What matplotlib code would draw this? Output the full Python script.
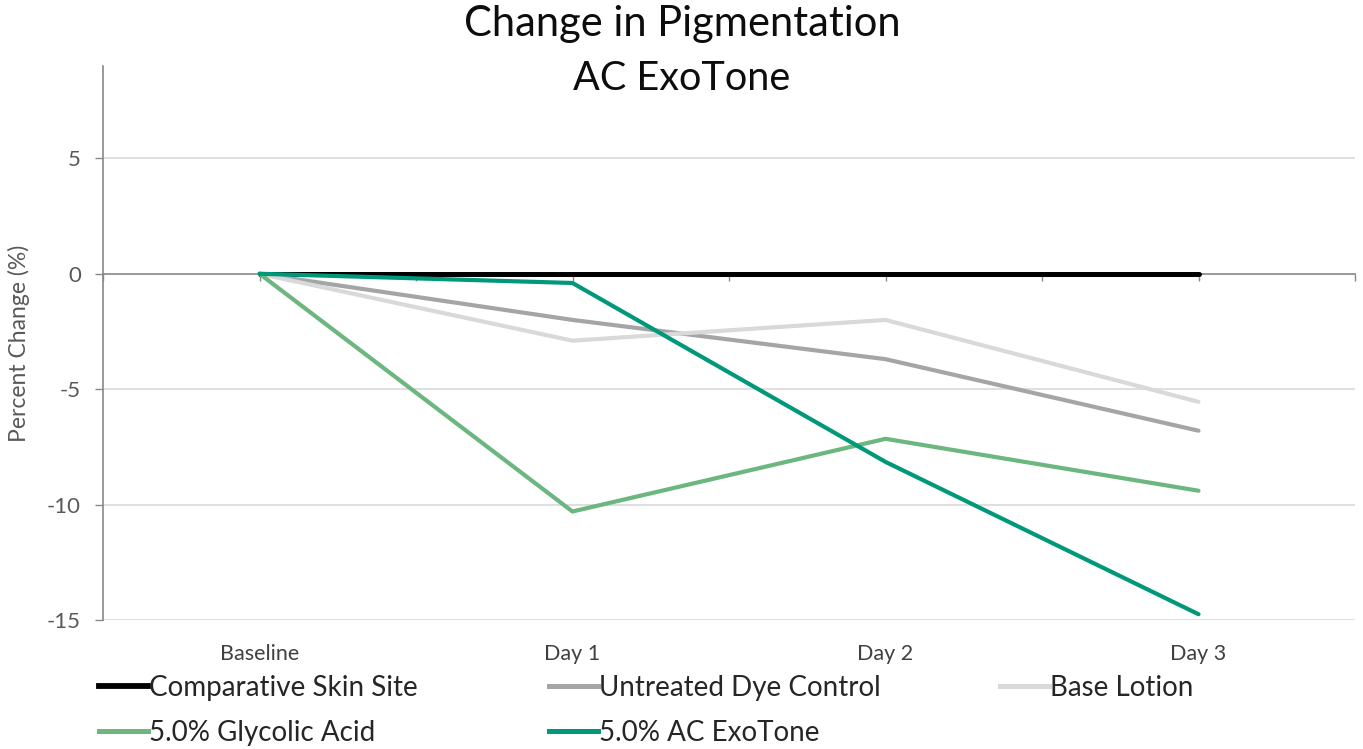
import matplotlib
matplotlib.use("Agg")
import matplotlib.pyplot as plt
from matplotlib.lines import Line2D
from matplotlib.ticker import MultipleLocator

categories = ["Baseline", "Day 1", "Day 2", "Day 3"]
series_names = ["Comparative Skin Site", "Untreated Dye Control", "Base Lotion",
                "5.0% Glycolic Acid", "5.0% AC ExoTone"]
comparative = [0, 0, 0, 0]
untreated = [0, -2.0, -3.7, -6.8]
base_lotion = [0, -2.9, -2.0, -5.55]
glycolic = [0, -10.3, -7.15, -9.4]
exotone = [0, -0.4, -8.15, -14.75]
yticks = [5, 0, -5, -10, -15]

colors = ["#000000", "#A5A5A5", "#D9D9D9", "#6CB67F", "#00987A"]
widths = [3.6, 3.0, 3.0, 3.0, 3.0]
values = [comparative, untreated, base_lotion, glycolic, exotone]

plt.rcParams['font.family'] = ['Lato', 'DejaVu Sans']

fig = plt.figure(figsize=(13.63, 7.49), dpi=100)
ax = fig.add_axes([103/1363, 1-620/749, (1355-103)/1363, (620-66)/749])

x = list(range(len(categories)))
for name, vals, c, w in zip(series_names, values, colors, widths):
    ax.plot(x, vals, color=c, lw=w, solid_capstyle='round', label=name, zorder=3)

ax.set_xlim(-0.5, 3.5)
ax.set_ylim(-15, 9)
ax.set_yticks(yticks)
ax.set_yticklabels([str(v) for v in yticks], fontsize=16, color="#595959")
ax.tick_params(axis='y', length=6, width=1, color="#888888", pad=10)
for yv in yticks:
    if yv != 0:
        ax.axhline(yv, color="#D9D9D9", lw=1.2, zorder=1)

ax.spines['top'].set_visible(False)
ax.spines['right'].set_visible(False)
ax.spines['left'].set_color("#888888")
ax.spines['left'].set_linewidth(1.2)
ax.spines['bottom'].set_position(('data', 0))
ax.spines['bottom'].set_color("#888888")
ax.spines['bottom'].set_linewidth(1.2)
ax.spines['bottom'].set_zorder(2)
ax.xaxis.set_major_locator(MultipleLocator(0.5))
ax.tick_params(axis='x', length=5, width=1, color="#888888", labelbottom=False)

sec = ax.secondary_xaxis(0.0)
sec.set_xticks(x)
sec.set_xticklabels(categories, fontsize=15.5, color="#404040")
sec.tick_params(length=0, pad=17)
sec.spines['bottom'].set_visible(False)

ax.set_ylabel("Percent Change (%)", fontsize=16.5, color="#595959", labelpad=12)

fig.text(682/1363, 1-24/749, "Change in Pigmentation", ha='center', va='center',
         fontsize=30, color="#0D0D0D")
fig.text(682/1363, 1-78/749, "AC ExoTone", ha='center', va='center',
         fontsize=28.5, color="#0D0D0D")

handles = [Line2D([0], [0], color=c, lw=w + 0.6) for c, w in zip(colors, widths)]
groups = [[0, 3], [1, 4], [2]]
col_x = [88, 538, 989]
for g, cx in zip(groups, col_x):
    leg = fig.legend([handles[i] for i in g], [series_names[i] for i in g],
                     loc='upper left', bbox_to_anchor=(cx/1363, 1-664/749),
                     frameon=False, fontsize=20, handlelength=1.75, handletextpad=0.05,
                     labelspacing=0.68, borderaxespad=0)
    for t in leg.get_texts():
        t.set_color("#262626")

fig.savefig("out.png", dpi=100)
